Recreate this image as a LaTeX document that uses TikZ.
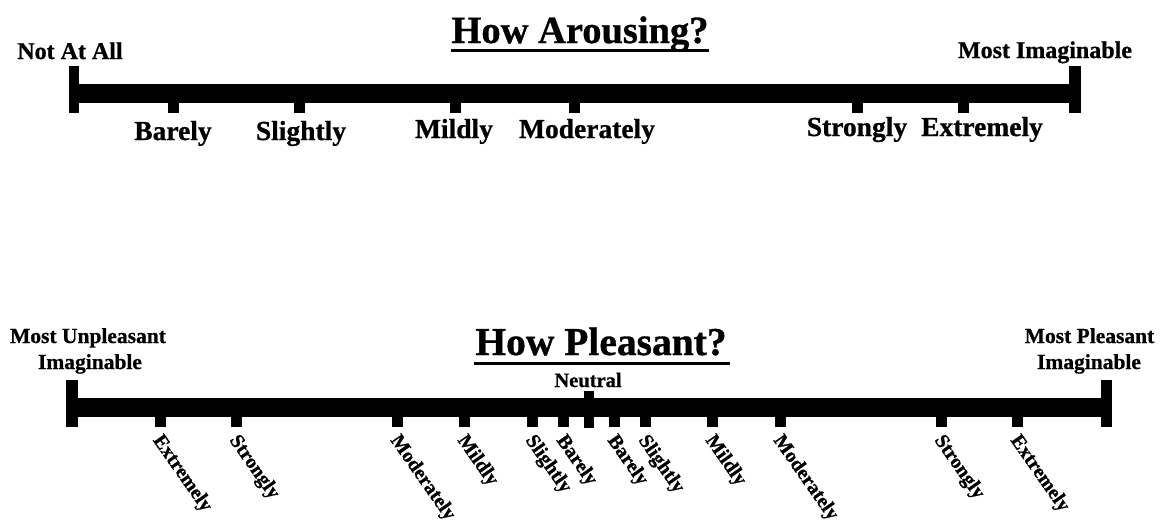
\documentclass[tikz,border=0pt]{standalone}
\usepackage{fontspec}
\setmainfont{Liberation Serif}[BoldFeatures={FakeBold=0.8}]
\begin{document}
\begin{tikzpicture}[x=1pt,y=-1pt,
  lbl/.style={font=\bfseries\fontsize{27.5}{30}\selectfont, anchor=base, inner sep=0},
  endlbl/.style={font=\bfseries\fontsize{24}{26}\selectfont, anchor=base, inner sep=0},
  endlblb/.style={font=\bfseries\fontsize{21.5}{24}\selectfont, anchor=base, inner sep=0},
  rlbl/.style={font=\bfseries\fontsize{20}{22}\selectfont, anchor=north west, inner sep=0, rotate=-55},
  ttl/.style={font=\bfseries\fontsize{38.5}{40}\selectfont, anchor=base, inner sep=0},
  uline/.style={line width=3pt},
  barfill/.style={fill=black}]
\useasboundingbox (0,0) rectangle (1161,525);
% ---------- Top scale ----------
\node[ttl] (t1) at (580,43) {How Arousing?};
\draw[uline] (451,50.5) -- (709,50.5);
\fill[barfill] (69,84) rectangle (1081,103);
\fill[barfill] (69,66) rectangle (79,113);
\fill[barfill] (1069,66) rectangle (1081,113);
\foreach \x in {173,299,455,574,857,963}
  \fill[barfill] (\x-5.5,103) rectangle (\x+5.5,113);
\node[endlbl] (na) at (70,59) {Not At All};
\node[endlbl] (mi) at (1045,58) {Most Imaginable};
\node[lbl] (a1) at (173,140) {Barely};
\node[lbl] (a2) at (301,140) {Slightly};
\node[lbl] (a3) at (454,138) {Mildly};
\node[lbl] (a4) at (587,138) {Moderately};
\node[lbl] (a5) at (857,136) {Strongly};
\node[lbl] (a6) at (982,136) {Extremely};
% ---------- Bottom scale ----------
\node[ttl, font=\bfseries\fontsize{39.5}{41}\selectfont] (t2) at (601,355) {How Pleasant?};
\draw[uline] (474,363.5) -- (730,363.5);
\fill[barfill] (66,398) rectangle (1112,417);
\fill[barfill] (66,380) rectangle (78,427);
\fill[barfill] (1101,380) rectangle (1112,427);
\fill[barfill] (584,391) rectangle (594,428);
\node[endlblb, font=\bfseries\fontsize{20.5}{22}\selectfont] (neu) at (588,387) {Neutral};
\node[endlblb] (mu1) at (88,343) {Most Unpleasant};
\node[endlblb] (mu2) at (90,369) {Imaginable};
\node[endlblb] (mp1) at (1089.5,343) {Most Pleasant};
\node[endlblb] (mp2) at (1089,369) {Imaginable};
\foreach \x/\w [count=\i] in {160/Extremely,236.5/Strongly,397.5/Moderately,464.5/Mildly,532.5/Slightly,563.5/Barely,614.5/Barely,645.5/Slightly,712.5/Mildly,780.5/Moderately,941.5/Strongly,1017.5/Extremely}{
  \fill[barfill] (\x-5.5,417) rectangle (\x+5.5,427);
  \node[rlbl] (p\i) at (\x+4,432) {\w};
}
\end{tikzpicture}
\end{document}
